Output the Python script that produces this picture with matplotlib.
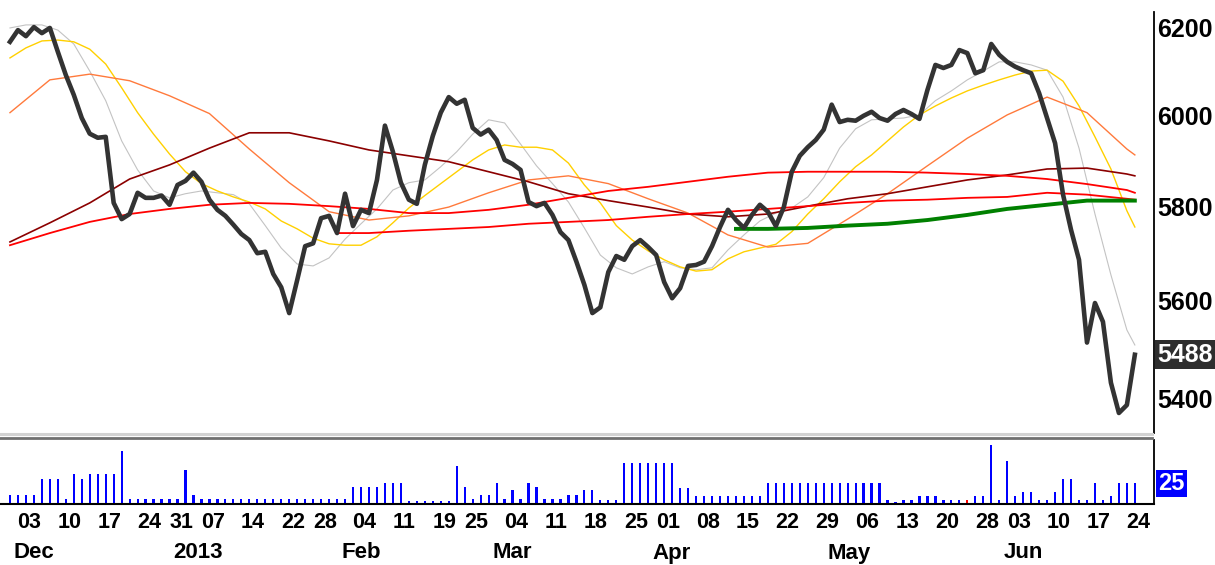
import numpy as np
import pandas as pd
import matplotlib
matplotlib.use("Agg")
import matplotlib.pyplot as plt
from matplotlib.lines import Line2D
from matplotlib.ticker import NullLocator, NullFormatter
from matplotlib.transforms import blended_transform_factory

plt.rcParams['font.family'] = ['Liberation Sans', 'DejaVu Sans']

# trading days shown (US calendar)
holidays = ['2012-12-25', '2013-01-01', '2013-01-21', '2013-02-18', '2013-03-29', '2013-05-27']
dates = pd.bdate_range('2012-11-29', '2013-06-24')
dates = dates[~dates.isin(pd.to_datetime(holidays))]

close = [6168, 6195, 6181, 6202, 6188, 6200, 6145, 6092, 6047, 5995,
         5960, 5951, 5953, 5808, 5773, 5784, 5830, 5819, 5819, 5824,
         5804, 5847, 5856, 5874, 5854, 5815, 5793, 5780, 5761, 5741,
         5728, 5700, 5703, 5656, 5628, 5574, 5643, 5715, 5721, 5775,
         5780, 5743, 5828, 5758, 5793, 5786, 5858, 5978, 5920, 5852,
         5815, 5806, 5891, 5955, 6007, 6042, 6027, 6036, 5973, 5958,
         5969, 5946, 5902, 5893, 5880, 5810, 5801, 5808, 5782, 5745,
         5728, 5682, 5633, 5574, 5586, 5660, 5694, 5686, 5715, 5728,
         5713, 5696, 5639, 5605, 5626, 5673, 5675, 5682, 5715, 5756,
         5793, 5771, 5754, 5782, 5804, 5789, 5758, 5799, 5876, 5911,
         5930, 5946, 5969, 6025, 5986, 5991, 5989, 6000, 6009, 5995,
         5989, 6004, 6013, 6004, 5993, 6058, 6115, 6108, 6115, 6149,
         6142, 6096, 6103, 6163, 6138, 6122, 6111, 6103, 6096, 6051,
         5995, 5939, 5826, 5750, 5686, 5513, 5595, 5556, 5431, 5370,
         5386, 5488]

volume = [11, 11, 11, 11, 31, 31, 31, 6, 36, 31,
          36, 36, 36, 36, 64, 6, 6, 6, 6, 6,
          6, 6, 41, 11, 6, 6, 6, 6, 6, 6,
          6, 6, 6, 6, 6, 6, 6, 6, 6, 6,
          6, 6, 6, 21, 21, 21, 21, 26, 26, 26,
          4, 4, 4, 4, 4, 4, 46, 21, 6, 11,
          11, 26, 6, 17, 6, 26, 21, 6, 6, 6,
          11, 11, 17, 17,
          5, 5, 5, 50, 50, 50, 50, 50, 50, 50,
          20, 20, 10, 10, 10, 10, 10, 10, 10, 10,
          10, 25, 25, 25, 25, 25, 25, 25, 25, 25,
          25, 25, 25, 25, 25, 25, 5, 3, 5, 5,
          10, 10, 10, 5, 5, 5, 5, 10, 10, 72,
          5, 52, 10, 15, 15, 5, 5, 15, 30, 30,
          5, 5, 25, 5, 10, 25, 25, 25]
red_bar = 120

# fast averages, sampled every 2 trading days
fast_days = list(range(0, 141, 2)) + [141]
ma_gray = [6200, 6207, 6207, 6195, 6163, 6101, 6034, 5944, 5880, 5834,
           5819, 5828, 5834, 5830, 5826, 5806, 5759, 5711, 5677, 5673,
           5690, 5730, 5763, 5795, 5836, 5852, 5858, 5887, 5920, 5959,
           5991, 5984, 5937, 5889, 5850, 5810, 5754, 5696, 5669, 5656,
           5671, 5682, 5669, 5665, 5669, 5707, 5739, 5769, 5786, 5797,
           5821, 5863, 5928, 5971, 5991, 5993, 5995, 6002, 6034, 6056,
           6081, 6101, 6122, 6122, 6115, 6103, 6042, 5928, 5784, 5654,
           5539, 5508]
ma_yellow = [6131, 6154, 6170, 6172, 6168, 6151, 6117, 6063, 6007, 5959,
             5915, 5876, 5850, 5834, 5821, 5810, 5795, 5769, 5752, 5732,
             5720, 5717, 5717, 5735, 5765, 5797, 5824, 5850, 5876, 5902,
             5924, 5935, 5930, 5930, 5924, 5895, 5847, 5808, 5759, 5728,
             5705, 5686, 5671, 5662, 5665, 5688, 5703, 5711, 5719, 5746,
             5784, 5817, 5854, 5887, 5913, 5944, 5975, 6002, 6022, 6040,
             6056, 6069, 6081, 6092, 6101, 6103, 6078, 6022, 5953, 5882,
             5791, 5756]

# slow averages, sampled every 5 trading days
ma_days = list(range(0, 141, 5)) + [141]
ma_orange = [6007, 6081, 6094, 6079, 6045, 6005, 5926, 5852, 5789, 5771, 5780, 5799, 5830, 5858, 5867,
             5850, 5817, 5786, 5739, 5713, 5721, 5773, 5828, 5889, 5950, 6002, 6042, 6007, 5926, 5913]
ma_darkred = [5724, 5765, 5808, 5860, 5891, 5928, 5962, 5962, 5944, 5924, 5911, 5898, 5876, 5854, 5828,
              5813, 5799, 5784, 5778, 5784, 5801, 5817, 5828, 5843, 5858, 5869, 5882, 5884, 5871, 5867]
ma_red1 = [5717, 5743, 5767, 5784, 5795, 5804, 5808, 5806, 5801, 5795, 5786, 5786, 5793, 5804, 5819,
           5834, 5843, 5854, 5865, 5874, 5876, 5876, 5876, 5874, 5871, 5867, 5860, 5849, 5836, 5830]
red2_days = [41] + list(range(45, 141, 5)) + [141]
ma_red2 = [5743, 5743, 5748, 5752, 5756, 5763, 5767, 5771, 5778, 5784, 5789,
           5795, 5801, 5808, 5813, 5815, 5819, 5821, 5830, 5826, 5817, 5815]
green_days = [91] + list(range(95, 141, 5)) + [141]
ma_green = [5752, 5752, 5754, 5759, 5763, 5771, 5782, 5795, 5804, 5813, 5813, 5813]

price_ticks = [5400, 5600, 5800, 6000, 6200]
month_names = ['Dec', '2013', 'Feb', 'Mar', 'Apr', 'May', 'Jun']

W, H = 1215, 565
fig = plt.figure(figsize=(W / 100, H / 100), dpi=100)
ax = fig.add_axes([0, 132 / H, 1154 / W, 433 / H])
vax = fig.add_axes([0, 61 / H, 1154 / W, 64 / H])

x = np.arange(len(close))

ax.plot(fast_days, ma_gray, color='#c3c3c3', lw=0.8)
ax.plot(fast_days, ma_yellow, color='#ffd000', lw=1.0)
ax.plot(ma_days, ma_orange, color='#ff7a3c', lw=1.0)
ax.plot(ma_days, ma_darkred, color='#8b0000', lw=1.2)
ax.plot(ma_days, ma_red1, color='#ff0000', lw=1.3)
ax.plot(red2_days, ma_red2, color='#ff0000', lw=1.3)
ax.plot(green_days, ma_green, color='#008000', lw=2.8)
ax.plot(x, close, color='#333333', lw=3.3, solid_joinstyle='round')

ax.set_yscale('log')
ax.set_ylim(5330, 6265)
ax.set_xlim(-1.25, 143.4)
ax.yaxis.tick_right()
ax.set_yticks(price_ticks)
ax.set_yticklabels([str(t) for t in price_ticks])
ax.yaxis.set_minor_locator(NullLocator())
ax.yaxis.set_minor_formatter(NullFormatter())
ax.tick_params(axis='y', length=0, pad=2.5, labelsize=18)
for lab in ax.get_yticklabels():
    lab.set_fontweight('bold')
ax.set_xticks([])
for s in ['top', 'left', 'bottom']:
    ax.spines[s].set_visible(False)
ax.spines['right'].set_color('black')
ax.spines['right'].set_linewidth(1.3)
ax.spines['right'].set_bounds(5330, 6237)

ax.annotate(str(close[-1]), xy=(1, close[-1]), xycoords=('axes fraction', 'data'),
            xytext=(2.5, 0), textcoords='offset points', ha='left', va='center',
            fontsize=18, fontweight='bold', color='white',
            bbox=dict(boxstyle='square,pad=0.1', fc='#2e2e2e', ec='none'))

# volume
bar_colors = ['#ff0000' if i == red_bar else '#0000ff' for i in x]
vax.bar(x, volume, width=0.28, color=bar_colors, linewidth=0)
vax.set_xlim(-1.25, 143.4)
vax.set_ylim(0, 78)
vax.set_xticks([])
vax.set_yticks([])
for s in ['top', 'left']:
    vax.spines[s].set_visible(False)
vax.spines['bottom'].set_color('black')
vax.spines['bottom'].set_linewidth(1.5)
vax.spines['right'].set_color('black')
vax.spines['right'].set_linewidth(1.3)
vax.annotate(str(volume[-1]), xy=(1, volume[-1]), xycoords=('axes fraction', 'data'),
             xytext=(3, 0), textcoords='offset points', ha='left', va='center',
             fontsize=17, fontweight='bold', color='white',
             bbox=dict(boxstyle='square,pad=0.1', fc='#0000ff', ec='none'))

# separator between panels
fig.add_artist(Line2D([0, 1152 / W], [1 - 434 / H] * 2, color='#d2d2d2', lw=2.2))
fig.add_artist(Line2D([0, 1152 / W], [1 - 437.5 / H] * 2, color='#707070', lw=2.0))

# date labels
trans = blended_transform_factory(vax.transData, fig.transFigure)
weeks = pd.Series(x, index=dates).groupby(dates.to_period('W')).first()
for i in weeks.values[1:]:
    vax.text(i + 0.45, 1 - 522 / H, dates[i].strftime('%d'), transform=trans,
             ha='center', va='center', fontsize=15.5, fontweight='bold', clip_on=False)
months = pd.Series(x, index=dates).groupby(dates.to_period('M')).first()
for name, i in zip(month_names, months.values[1:]):
    vax.text(i - 1.5, 1 - 553 / H, name, transform=trans,
             ha='left', va='center', fontsize=16, fontweight='bold', clip_on=False)

fig.savefig('out.png', dpi=100)
